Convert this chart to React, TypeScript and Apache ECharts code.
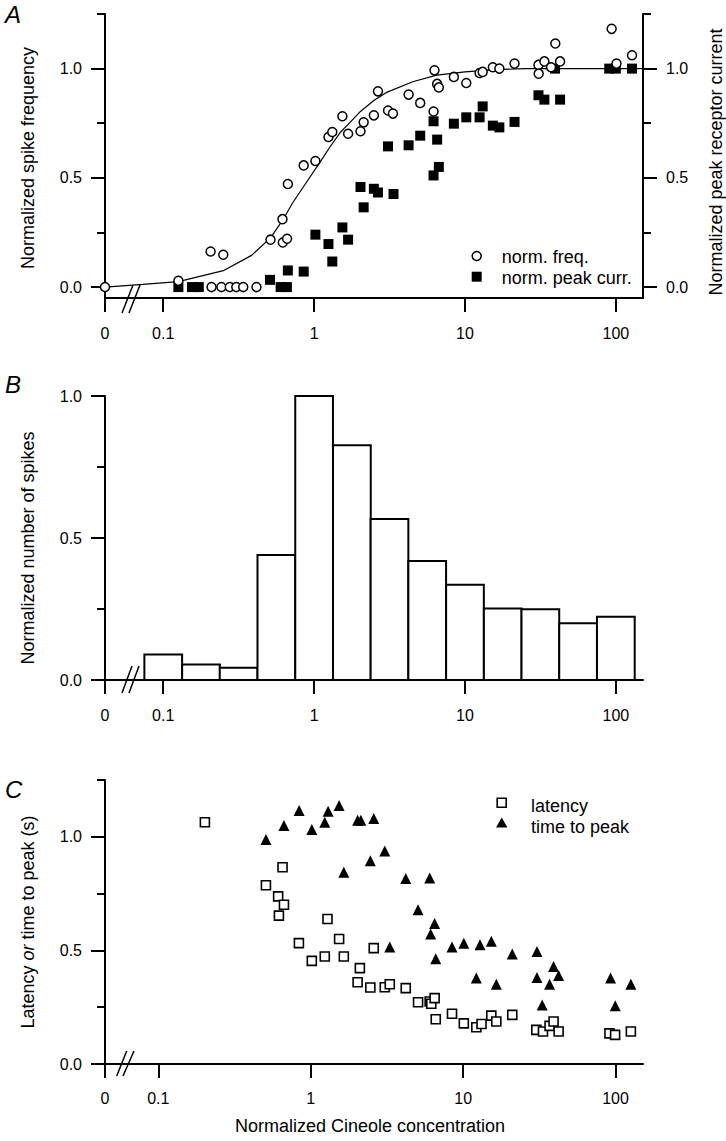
import React, { useEffect, useRef } from "react";
import * as echarts from "echarts";

// ---------- data ----------
const xTickConc = [0, 0.1, 1, 10, 100];
const xTickLabels = ["0", "0.1", "1", "10", "100"];
const yLabelTicks = [0, 0.5, 1];
const yMinorTicksTall = [0.25, 0.75, 1.25];
const yMinorTicksB = [0.25, 0.75];

// Panel A: normalized spike frequency (open circles)
const freqConc = [0, 0.126, 0.206, 0.25, 0.209, 0.243, 0.276, 0.305, 0.339, 0.415, 0.514, 0.617, 0.62, 0.662, 0.67, 0.853, 1.02, 1.245, 1.32, 1.54, 1.68, 2.03, 2.13, 2.49, 2.65, 3.09, 3.33, 4.23, 5.05, 6.19, 6.28, 6.54, 6.71, 8.44, 10.2, 12.5, 13.1, 15.3, 16.9, 21.3, 30.7, 30.8, 33.6, 37.2, 39.7, 42.7, 93.8, 101, 128];
const freqVal = [0, 0.029, 0.163, 0.148, 0, 0, 0, 0, 0, 0, 0.217, 0.311, 0.204, 0.221, 0.472, 0.557, 0.577, 0.687, 0.71, 0.782, 0.702, 0.713, 0.754, 0.786, 0.896, 0.808, 0.794, 0.881, 0.843, 0.804, 0.992, 0.93, 0.914, 0.962, 0.934, 0.98, 0.985, 1.006, 1.0, 1.023, 1.017, 0.977, 1.033, 1.006, 1.115, 1.033, 1.182, 1.023, 1.061];

// Panel A: normalized peak receptor current (filled squares)
const peakConc = [0.126, 0.155, 0.172, 0.51, 0.6, 0.66, 0.67, 0.853, 1.02, 1.245, 1.32, 1.54, 1.68, 2.03, 2.13, 2.49, 2.65, 3.09, 3.36, 4.23, 5.05, 6.19, 6.19, 6.54, 6.71, 8.44, 10.2, 12.5, 13.1, 15.3, 16.9, 21.3, 30.7, 33.6, 39.5, 42.7, 90.4, 100, 128];
const peakVal = [0, 0, 0, 0.033, 0, 0, 0.076, 0.071, 0.24, 0.197, 0.117, 0.273, 0.217, 0.458, 0.365, 0.45, 0.433, 0.644, 0.426, 0.649, 0.693, 0.759, 0.511, 0.675, 0.55, 0.748, 0.777, 0.777, 0.827, 0.739, 0.731, 0.756, 0.878, 0.858, 1.0, 0.858, 1.0, 1.0, 1.0];

// Panel A: fitted curve
const fitConc = [0, 0.073, 0.126, 0.25, 0.385, 0.514, 0.617, 0.72, 0.89, 1.09, 1.27, 1.5, 1.68, 2.0, 2.5, 3.0, 4.5, 6.5, 10, 16, 25, 150];
const fitVal = [0, 0.012, 0.025, 0.075, 0.145, 0.225, 0.305, 0.385, 0.48, 0.57, 0.64, 0.71, 0.745, 0.8, 0.855, 0.89, 0.94, 0.97, 0.985, 0.995, 1.0, 1.0];

// Panel B: histogram (bins 1/4 decade wide)
const binCenters = [0.1, 0.178, 0.316, 0.562, 1, 1.78, 3.16, 5.62, 10, 17.8, 31.6, 56.2, 100];
const binValues = [0.09, 0.055, 0.043, 0.44, 1.0, 0.827, 0.567, 0.419, 0.335, 0.252, 0.249, 0.2, 0.223];
const BIN_HALF_DECADE = 0.125;

// Panel C: latency (open squares)
const latConc = [0.202, 0.508, 0.653, 0.611, 0.667, 0.618, 0.836, 1.016, 1.236, 1.288, 1.535, 1.648, 2.1, 2.03, 2.59, 2.46, 3.06, 3.3, 4.2, 5.06, 6.03, 6.18, 6.5, 6.61, 8.45, 10.1, 12.2, 13.2, 15.3, 16.5, 21.0, 30.2, 33.4, 36.9, 39.2, 42.3, 91.2, 99.3, 126];
const latVal = [1.064, 0.787, 0.866, 0.738, 0.701, 0.653, 0.532, 0.454, 0.473, 0.638, 0.55, 0.473, 0.422, 0.36, 0.51, 0.337, 0.338, 0.351, 0.334, 0.272, 0.275, 0.265, 0.29, 0.197, 0.221, 0.179, 0.162, 0.176, 0.213, 0.187, 0.216, 0.15, 0.143, 0.168, 0.187, 0.143, 0.135, 0.128, 0.143];

// Panel C: time to peak (filled triangles)
const ttpConc = [0.508, 0.667, 0.839, 1.016, 1.236, 1.3, 1.535, 1.648, 2.03, 2.13, 2.59, 2.46, 3.06, 3.3, 4.2, 6.03, 5.06, 6.5, 6.12, 6.61, 8.45, 10.1, 12.9, 15.3, 12.2, 16.5, 21.0, 30.5, 30.5, 39.2, 42.3, 36.9, 33.0, 92.7, 99.5, 126];
const ttpVal = [0.988, 1.05, 1.116, 1.032, 1.064, 1.113, 1.138, 0.844, 1.073, 1.073, 1.081, 0.895, 0.937, 0.515, 0.816, 0.819, 0.679, 0.618, 0.572, 0.463, 0.515, 0.532, 0.525, 0.54, 0.378, 0.351, 0.484, 0.495, 0.381, 0.429, 0.39, 0.351, 0.26, 0.378, 0.256, 0.351];

// ---------- layout / style ----------
const FONT = '"Liberation Sans", Arial, Helvetica, sans-serif';
const X0_AB = -1.386; // log-position where concentration 0 is drawn (panels A, B)
const X0_C = -1.35; // panel C
const X_MAX = 2.18;

const pos = (c: number, x0: number) => (c === 0 ? x0 : Math.log10(c));
const pairs = (cs: number[], vs: number[], x0: number) => cs.map((c, i) => [pos(c, x0), vs[i]]);

function xAxisDef(gridIndex: number, x0: number, margin: number) {
  const vals = xTickConc.map((c) => pos(c, x0));
  return {
    type: "value",
    gridIndex,
    min: x0,
    max: X_MAX,
    axisLine: { show: true, onZero: false, lineStyle: { color: "#000", width: 2 } },
    axisTick: { show: true, length: 14, lineStyle: { color: "#000", width: 2 }, customValues: vals },
    axisLabel: {
      show: true,
      customValues: vals,
      margin,
      color: "#000",
      fontSize: 16,
      fontFamily: FONT,
      formatter: (v: number) => {
        const i = vals.findIndex((p) => Math.abs(p - v) < 1e-6);
        return i >= 0 ? xTickLabels[i] : "";
      },
    },
    splitLine: { show: false },
  };
}

function yMajor(gridIndex: number, min: number, max: number, position: string) {
  return {
    type: "value",
    gridIndex,
    min,
    max,
    position,
    axisLine: { show: true, onZero: false, lineStyle: { color: "#000", width: 2 } },
    axisTick: { show: true, length: 14, lineStyle: { color: "#000", width: 2 }, customValues: yLabelTicks },
    axisLabel: {
      show: true,
      customValues: yLabelTicks,
      margin: 23,
      color: "#000",
      fontSize: 16,
      fontFamily: FONT,
      formatter: (v: number) => v.toFixed(1),
    },
    splitLine: { show: false },
  };
}

function yMinor(gridIndex: number, min: number, max: number, position: string, ticks: number[]) {
  return {
    type: "value",
    gridIndex,
    min,
    max,
    position,
    axisLine: { show: false, onZero: false },
    axisTick: { show: true, length: 8, lineStyle: { color: "#000", width: 2 }, customValues: ticks },
    axisLabel: { show: false },
    splitLine: { show: false },
  };
}

const titleStyle = { fill: "#000", fontSize: 18, fontFamily: FONT };

function vText(text: string, x: number, y: number) {
  return {
    type: "text",
    x,
    y,
    rotation: Math.PI / 2,
    style: { ...titleStyle, text, textAlign: "center", textVerticalAlign: "middle" },
  };
}

function letter(text: string, y: number) {
  return {
    type: "text",
    x: 5,
    y,
    style: { text, fill: "#000", fontSize: 24, fontStyle: "italic", fontFamily: FONT, textAlign: "left", textVerticalAlign: "middle" },
  };
}

function breakMarks(pts: number[][]) {
  return pts.map((p) => ({
    type: "line",
    shape: { x1: p[0], y1: p[1], x2: p[2], y2: p[3] },
    style: { stroke: "#000", lineWidth: 1.5 },
    z: 100,
  }));
}

function buildOption() {
  return {
    animation: false,
    backgroundColor: "#fff",
    grid: [
      { left: 105, top: 14, width: 538, height: 284 },
      { left: 105, top: 396, width: 538, height: 284 },
      { left: 105, top: 780, width: 538, height: 284 },
    ],
    xAxis: [xAxisDef(0, X0_AB, 27), xAxisDef(1, X0_AB, 27), xAxisDef(2, X0_C, 26)],
    yAxis: [
      yMajor(0, -0.05, 1.25, "left"),
      yMinor(0, -0.05, 1.25, "left", yMinorTicksTall),
      yMajor(0, -0.05, 1.25, "right"),
      yMinor(0, -0.05, 1.25, "right", yMinorTicksTall),
      yMajor(1, 0, 1, "left"),
      yMinor(1, 0, 1, "left", yMinorTicksB),
      yMajor(2, 0, 1.25, "left"),
      yMinor(2, 0, 1.25, "left", yMinorTicksTall),
    ],
    series: [
      {
        name: "fit",
        type: "line",
        xAxisIndex: 0,
        yAxisIndex: 0,
        data: pairs(fitConc, fitVal, X0_AB),
        showSymbol: false,
        symbol: "none",
        lineStyle: { color: "#000", width: 1.2 },
        silent: true,
        z: 2,
      },
      {
        name: "norm. peak curr.",
        type: "scatter",
        xAxisIndex: 0,
        yAxisIndex: 2,
        data: pairs(peakConc, peakVal, X0_AB),
        symbol: "rect",
        symbolSize: 10,
        itemStyle: { color: "#000", opacity: 1 },
        z: 3,
      },
      {
        name: "norm. freq.",
        type: "scatter",
        xAxisIndex: 0,
        yAxisIndex: 0,
        data: pairs(freqConc, freqVal, X0_AB),
        symbol: "circle",
        symbolSize: 9,
        itemStyle: { color: "#fff", borderColor: "#000", borderWidth: 1.5, opacity: 1 },
        z: 4,
      },
      {
        name: "spikes",
        type: "custom",
        xAxisIndex: 1,
        yAxisIndex: 4,
        data: binCenters.map((c, i) => [Math.log10(c) - BIN_HALF_DECADE, Math.log10(c) + BIN_HALF_DECADE, binValues[i]]),
        encode: { x: [0, 1], y: 2 },
        renderItem: (params: any, api: any) => {
          const p0 = api.coord([api.value(0), api.value(2)]);
          const p1 = api.coord([api.value(1), 0]);
          return {
            type: "rect",
            shape: { x: p0[0], y: p0[1], width: p1[0] - p0[0], height: p1[1] - p0[1] },
            style: { fill: "#fff", stroke: "#000", lineWidth: 2 },
          };
        },
      },
      {
        name: "latency",
        type: "scatter",
        xAxisIndex: 2,
        yAxisIndex: 6,
        data: pairs(latConc, latVal, X0_C),
        symbol: "rect",
        symbolSize: 9,
        itemStyle: { color: "#fff", borderColor: "#000", borderWidth: 1.6, opacity: 1 },
        z: 3,
      },
      {
        name: "time to peak",
        type: "scatter",
        xAxisIndex: 2,
        yAxisIndex: 6,
        data: pairs(ttpConc, ttpVal, X0_C),
        symbol: "triangle",
        symbolSize: 11,
        itemStyle: { color: "#000", opacity: 1 },
        z: 4,
      },
    ],
    graphic: [
      letter("A", 14),
      letter("B", 384),
      letter("C", 789),
      vText("Normalized spike frequency", 28, 158),
      vText("Normalized peak receptor current", 716, 162),
      vText("Normalized number of spikes", 28, 548),
      {
        type: "text",
        x: 28,
        y: 922,
        rotation: Math.PI / 2,
        style: {
          text: "{n|Latency }{i|or}{n| time to peak (s)}",
          textAlign: "center",
          textVerticalAlign: "middle",
          fontSize: 18,
          fontFamily: FONT,
          fill: "#000",
          rich: {
            n: { fontSize: 18, fontFamily: FONT, fill: "#000", color: "#000" },
            i: { fontSize: 18, fontFamily: FONT, fontStyle: "italic", fill: "#000", color: "#000" },
          },
        },
      },
      {
        type: "text",
        x: 370,
        y: 1126,
        style: { ...titleStyle, text: "Normalized Cineole concentration", textAlign: "center", textVerticalAlign: "middle" },
      },
      // legend A
      { type: "circle", shape: { cx: 476.7, cy: 256, r: 4.5 }, style: { fill: "#fff", stroke: "#000", lineWidth: 1.5 } },
      { type: "text", x: 501.7, y: 257, style: { ...titleStyle, text: "norm. freq.", textVerticalAlign: "middle" } },
      { type: "rect", shape: { x: 471.7, y: 271.7, width: 10, height: 10 }, style: { fill: "#000" } },
      { type: "text", x: 501.7, y: 278, style: { ...titleStyle, text: "norm. peak curr.", textVerticalAlign: "middle" } },
      // legend C
      { type: "rect", shape: { x: 497.2, y: 798.2, width: 9, height: 9 }, style: { fill: "#fff", stroke: "#000", lineWidth: 1.6 } },
      { type: "text", x: 531, y: 806, style: { ...titleStyle, text: "latency", textVerticalAlign: "middle" } },
      { type: "polygon", shape: { points: [[496, 827.5], [507.4, 827.5], [501.7, 817.5]] }, style: { fill: "#000" } },
      { type: "text", x: 531, y: 827, style: { ...titleStyle, text: "time to peak", textVerticalAlign: "middle" } },
      // axis breaks
      ...breakMarks([
        [122, 313, 133, 285],
        [129, 313, 140, 285],
        [122, 693, 132, 666],
        [129, 693, 139, 666],
        [116.7, 1076, 126.7, 1051],
        [123, 1076, 134, 1051],
      ]),
    ],
  };
}

export default function App() {
  const ref = useRef<HTMLDivElement>(null);
  useEffect(() => {
    const chart = echarts.init(ref.current as HTMLDivElement, null, { renderer: "svg" });
    chart.setOption(buildOption() as any);
    return () => chart.dispose();
  }, []);
  return (
    <div
      ref={ref}
      style={{ position: "absolute", left: 0, top: 0, width: 726, height: 1141, background: "#fff" }}
    />
  );
}
